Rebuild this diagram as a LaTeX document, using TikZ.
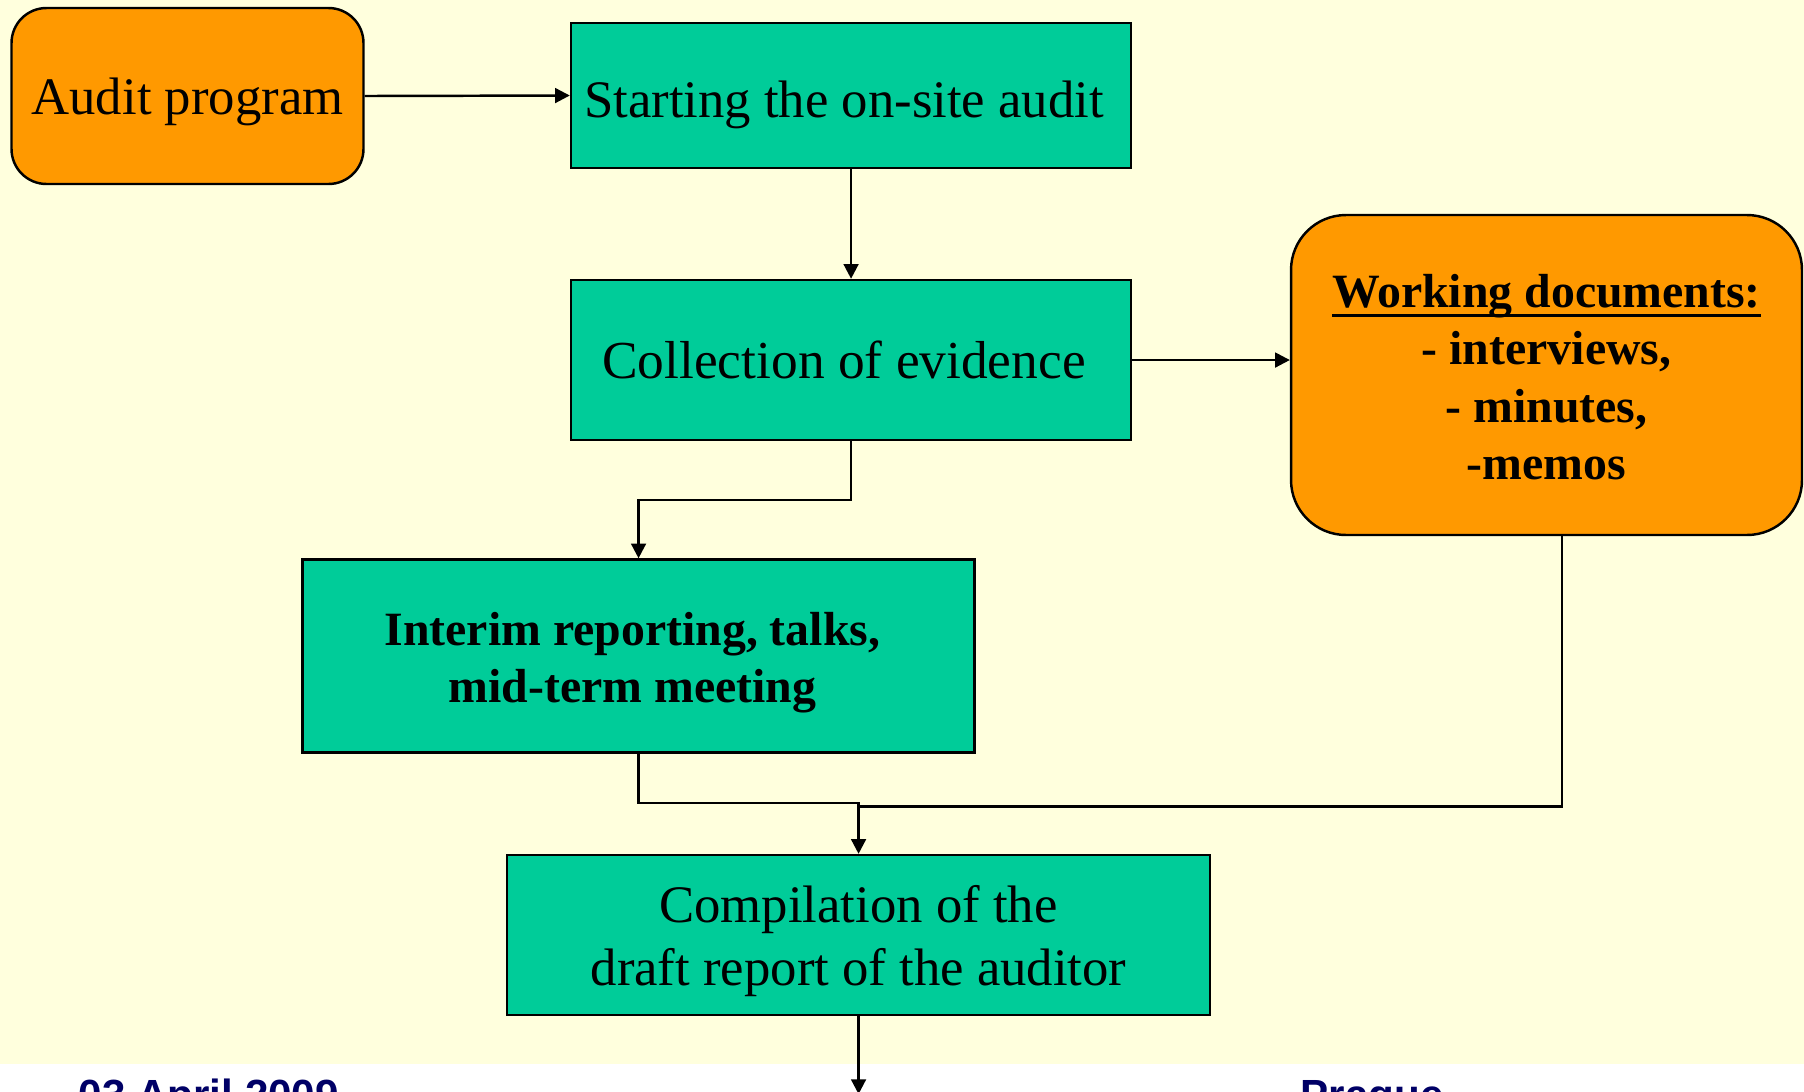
\documentclass[tikz,border=0pt]{standalone}
\usepackage{fontspec}
\setmainfont{Liberation Serif}
\newfontfamily\footfont{Liberation Sans}
\usetikzlibrary{arrows.meta}
\definecolor{bgyellow}{HTML}{FFFFDD}
\definecolor{boxgreen}{HTML}{00CC99}
\definecolor{boxorange}{HTML}{FF9900}
\definecolor{footnavy}{HTML}{000066}
% lowered text block, extra room on the right
\newcommand{\boxtext}[3]{\raisebox{-#1}[\height][\depth]{\begin{tabular}{@{}c@{}}#3\end{tabular}}\hspace*{#2}}
% thick underline close to the baseline
\newcommand{\heading}[1]{\setbox0\hbox{#1}\rlap{\rule[-2.7pt]{\wd0}{1pt}}\box0}
\begin{document}
\begin{tikzpicture}[scale=0.1]
            \tikzstyle{every node}+=[inner sep=0pt, align=center]
            \tikzstyle{greenbox}=[draw=black, line width=0.7pt, fill=boxgreen, font=\fontsize{15}{18}\selectfont]
            \tikzstyle{orangebox}=[draw=black, line width=0.7pt, fill=boxorange, rounded corners=3.5mm, font=\fontsize{15}{18}\selectfont]
            \tikzstyle{link}=[black, line width=0.7pt, -{Triangle[length=4.2pt,width=4.2pt]}]
            \clip (0,0) rectangle (180.4,-109.1);
            \fill [white] (0,0) rectangle (180.4,-109.1);
            \fill [bgyellow] (0,0) rectangle (180.4,-106.4);
            \node [orangebox, minimum width=3.52cm, minimum height=1.76cm] (audit) at (18.75,-9.6) {\boxtext{1.6pt}{0pt}{Audit program}};
            \node [greenbox, minimum width=5.6cm, minimum height=1.45cm] (start) at (85.1,-9.55) {\boxtext{2.6pt}{4pt}{Starting the on-site audit}};
            \node [greenbox, minimum width=5.6cm, minimum height=1.6cm, font=\fontsize{15.2}{18}\selectfont] (coll) at (85.1,-36) {\boxtext{1.6pt}{4pt}{Collection of evidence}};
            \node [orangebox, rounded corners=5.5mm, minimum width=5.11cm, minimum height=3.2cm, font=\fontsize{13.6}{16.3}\selectfont\bfseries] (work) at (154.65,-37.5) {\boxtext{2pt}{0pt}{\heading{Working documents:}\\- interviews,\\- minutes,\\-memos}};
            \node [greenbox, minimum width=6.72cm, minimum height=1.93cm, font=\fontsize{13.6}{16.3}\selectfont\bfseries] (interim) at (63.85,-65.6) {\boxtext{1.8pt}{3.5pt}{Interim reporting, talks,\\mid-term meeting}};
            \node [greenbox, minimum width=7.03cm, minimum height=1.6cm] (comp) at (85.85,-93.5) {\boxtext{1.8pt}{0pt}{Compilation of the\\draft report of the auditor}};
            \coordinate (merge) at (85.85,-80.3);
            \coordinate (exit) at (85.85,-109.4);
            \draw [link] (audit.east) -- (start.west);
            \draw [link] (start.south) -- (coll.north);
            \draw [link] (coll.east) -- (work.west |- coll.east);
            \draw [link] (coll.south) -- ++(0,-5.9) -| (interim.north);
            \draw [link] (interim.south) |- (merge) -- (comp.north);
            \draw [black, line width=0.7pt] ([xshift=15.5mm]work.south) |- ([yshift=-3.5mm]merge);
            \draw [link] (comp.south) -- (exit);
            \node [anchor=base west, text=footnavy, font=\footfont\bfseries\fontsize{12}{14}\selectfont] (date) at (7.8,-110.9) {03 April 2009};
            \node [anchor=base west, text=footnavy, font=\footfont\bfseries\fontsize{12}{14}\selectfont] (place) at (130,-110.9) {Prague};
        \end{tikzpicture}
\end{document}
